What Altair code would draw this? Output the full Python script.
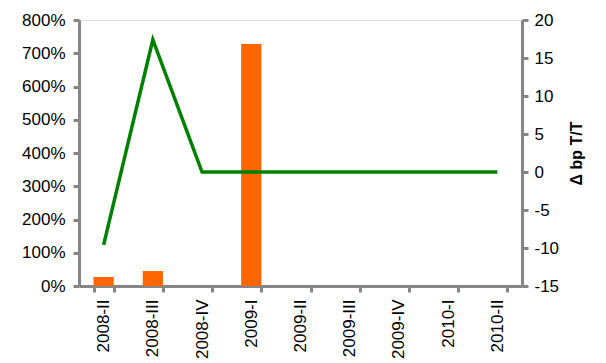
import altair as alt
import pandas as pd

categories = ["2008-II", "2008-III", "2008-IV", "2009-I", "2009-II",
              "2009-III", "2009-IV", "2010-I", "2010-II"]
bar_values = [0.27, 0.45, 0.0, 7.28, 0.0, 0.0, 0.0, 0.0, 0.0]
line_values = [-9.6, 17.4, 0, 0, 0, 0, 0, 0, 0]

df = pd.DataFrame({"q": categories, "bar": bar_values, "line": line_values})

GRAY = "#868686"
FONT = "Liberation Sans"

x = alt.X("q:N", sort=categories, title=None,
          scale=alt.Scale(paddingInner=0.59, paddingOuter=0.295),
          axis=alt.Axis(labelAngle=-90, labelFontSize=17, labelFont=FONT,
                        labelColor="#000000", tickBand="extent",
                        domainColor=GRAY, domainWidth=3, tickColor=GRAY,
                        tickWidth=3, tickSize=6, labelPadding=7,
                        labelAlign="right", labelBaseline="middle"))

bars = alt.Chart(df).mark_bar(color="#FF6600").encode(
    x=x,
    y=alt.Y("bar:Q", title=None,
            scale=alt.Scale(domain=[0, 8], nice=False),
            axis=alt.Axis(orient="left", values=list(range(0, 9)), format=".0%",
                          labelFontSize=17, labelFont=FONT, labelColor="#000000",
                          domainColor=GRAY, domainWidth=3, tickColor=GRAY,
                          tickWidth=3, tickSize=6, labelPadding=8, grid=False))
)

line = alt.Chart(df).mark_line(color="#008000", strokeWidth=3.5).encode(
    x=x,
    y=alt.Y("line:Q", title="Δ bp T/T",
            scale=alt.Scale(domain=[-15, 20], nice=False, zero=False),
            axis=alt.Axis(orient="right", values=list(range(-15, 21, 5)),
                          labelExpr="'' + datum.value",
                          labelFontSize=17, labelFont=FONT, labelColor="#000000",
                          domainColor=GRAY, domainWidth=3, tickColor=GRAY,
                          tickWidth=3, tickSize=6, labelPadding=6, grid=False,
                          titleFont=FONT, titleFontSize=16, titleFontWeight="bold",
                          titleColor="#000000", titleAngle=270, titlePadding=26))
)

chart = alt.layer(bars, line).resolve_scale(y="independent").properties(
    width=443, height=266,
    autosize=alt.AutoSizeParams(type="none"),
    padding={"left": 71, "top": 12, "right": 76, "bottom": 80},
).configure_view(stroke=None).configure(background="white")

chart.save("out.html", embed_options={"renderer": "svg", "actions": False})
